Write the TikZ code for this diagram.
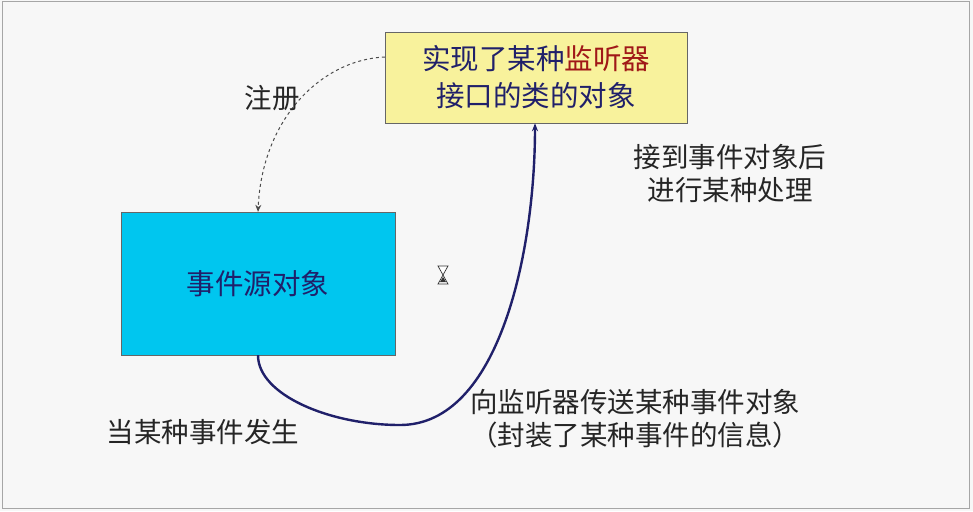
\documentclass[tikz,border=0pt]{standalone}
\usepackage{fontspec}
\newfontfamily\cjk{Noto Sans CJK SC}
\usetikzlibrary{arrows.meta}
\definecolor{navy}{HTML}{20206A}
\definecolor{ybox}{HTML}{F8F29C}
\definecolor{bbox}{HTML}{00C6EF}
\definecolor{dred}{HTML}{A01818}
\definecolor{txt}{HTML}{252525}
\tikzset{
  lbl/.style={font=\cjk\fontsize{27.5}{33}\selectfont, text=txt, align=center},
  boxtxt/.style={font=\cjk\fontsize{28.5}{37}\selectfont, text=navy, align=center},
}
\begin{document}
\begin{tikzpicture}[x=1pt,y=-1pt]
\useasboundingbox (0,0) rectangle (973,511);
\fill[white!97!black] (0,0) rectangle (973,511);
\draw[gray!70, line width=1pt] (2,2) rectangle (969,508);
\node[draw=gray!80!black, fill=ybox, minimum width=302pt, minimum height=91pt, boxtxt] (lis) at (536,77.5) {实现了某种\textcolor{dred}{监听器}\\接口的类的对象};
\node[draw=gray!80!black, fill=bbox, minimum width=274pt, minimum height=143pt, boxtxt] (src) at (258,283.5) {事件源对象};
\draw[navy, line width=2.4pt, -{Stealth[length=8pt,width=6pt]}] (src.south west -| 258,355) .. controls (258,395) and (330,425) .. (400,425) .. controls (500,425) and (535,250) .. (lis.south west -| 535,123);
\draw[gray!60!black, dashed, line width=1pt, -{Stealth[length=7pt,width=6pt]}] (lis.north west |- 0,57) .. controls (320,60) and (262,120) .. (src.north west -| 258,212);
\node[lbl] (reg) at (272,98) {注册};
\node[lbl] (proc) at (730,174) {接到事件对象后\\进行某种处理};
\node[lbl] (occ) at (203,432) {当某种事件发生};
\node[lbl] (send) at (635,419) {向监听器传送某种事件对象\\（封装了某种事件的信息）};
\filldraw[black!80, fill=white, line width=0.7pt] (438,266) -- (448,266) -- (438,284) -- (448,284) -- cycle;
\fill[black!80] (440,282) -- (446,282) -- (443,277) -- cycle;
\end{tikzpicture}
\end{document}
